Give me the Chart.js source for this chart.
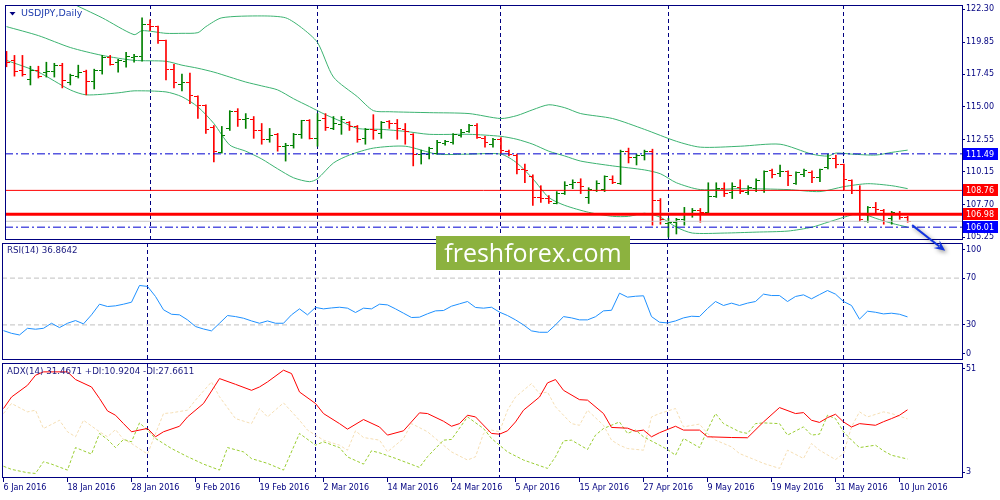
<!DOCTYPE html>
<html>
<head>
<meta charset="utf-8">
<script src="https://cdn.jsdelivr.net/npm/chart.js@4.4.1/dist/chart.umd.min.js"></script>
<style>
  html, body { margin: 0; padding: 0; background: #fff; }
  #wrap { position: relative; width: 1000px; height: 500px; overflow: hidden; background: #fff; }
  canvas { position: absolute; left: 0; }
  #price { top: 0; z-index: 3; }
  #rsi { top: 241px; z-index: 2; }
  #adx { top: 361px; z-index: 1; }
  #brand {
    position: absolute; left: 436px; top: 236px; width: 194px; height: 34px;
    background: #8cb23f; color: #fff; z-index: 4;
    font: 25px "Open Sans", sans-serif; line-height: 33px; text-align: center;
  }
</style>
</head>
<body>
<div id="wrap">
  <canvas id="price" width="1000" height="262"></canvas>
  <canvas id="rsi" width="1000" height="120"></canvas>
  <canvas id="adx" width="1000" height="139"></canvas>
  <div id="brand">freshforex.com</div>
</div>
<script>
// daily bars, 6 Jan 2016 .. 13 Jun 2016 (index = trading day)
const barOpen = [
  118.75, 118.48, 117.75, 117.08, 117.75, 117.60, 117.67, 118.12, 116.79, 117.30,
  117.67, 116.93, 117.75, 118.71, 118.34, 118.41, 118.71, 118.78, 121.14, 120.99,
  119.96, 117.82, 116.71, 116.79, 115.76, 115.09, 113.47, 111.62, 113.39, 114.64,
  114.06, 114.06, 113.24, 112.58, 112.95, 112.06, 112.14, 112.95, 113.98, 112.65,
  114.13, 113.39, 113.69, 113.84, 113.54, 112.65, 113.32, 113.02, 113.91, 113.76,
  113.32, 112.95, 111.47, 111.47, 111.55, 112.28, 112.36, 112.87, 113.17, 113.61,
  112.65, 112.21, 112.58, 111.69, 111.40, 110.29, 109.78, 108.23, 108.15, 107.78,
  108.52, 109.19, 109.33, 108.23, 108.74, 108.82, 109.55, 109.26, 111.69, 111.25,
  111.33, 111.69, 107.99, 106.30, 106.38, 106.60, 106.97, 107.26, 107.12, 108.30,
  108.89, 108.60, 108.96, 108.60, 108.89, 108.74, 110.22, 109.99, 110.14, 109.26,
  109.92, 110.07, 109.70, 110.44, 111.18, 110.66, 109.48, 108.74, 106.45, 107.49,
  107.26, 106.67, 107.05, 106.75
];
const barHigh = [
  119.15, 118.85, 118.85, 118.04, 118.04, 118.34, 118.26, 118.26, 117.45, 118.12,
  117.75, 117.82, 118.85, 118.85, 118.56, 119.07, 118.93, 121.66, 121.51, 121.05,
  120.00, 118.19, 117.45, 117.53, 115.83, 115.16, 113.61, 113.54, 114.72, 114.87,
  114.50, 114.28, 113.76, 113.39, 113.02, 112.28, 113.02, 114.00, 114.05, 114.50,
  114.50, 114.28, 114.28, 113.91, 113.61, 113.39, 114.42, 113.91, 113.98, 114.06,
  113.76, 113.00, 111.77, 111.99, 112.51, 112.51, 113.00, 113.32, 113.69, 113.76,
  112.80, 112.65, 112.70, 111.77, 111.47, 110.73, 109.92, 109.11, 108.37, 108.67,
  109.41, 109.55, 109.63, 108.96, 109.48, 109.85, 109.85, 111.77, 111.92, 111.47,
  111.77, 111.84, 108.15, 106.67, 106.67, 107.49, 107.41, 107.41, 109.33, 109.33,
  109.33, 109.33, 109.55, 109.11, 109.63, 110.22, 110.36, 110.66, 110.22, 110.14,
  110.36, 110.22, 110.36, 111.47, 111.40, 110.73, 109.55, 109.11, 107.56, 107.86,
  107.34, 107.19, 107.19, 106.82
];
const barLow = [
  118.00, 117.30, 117.30, 116.64, 117.16, 117.23, 117.23, 116.42, 116.64, 117.16,
  115.90, 116.34, 117.45, 118.12, 117.60, 117.97, 118.34, 118.41, 120.70, 119.74,
  117.01, 116.42, 116.20, 115.24, 114.13, 113.02, 110.88, 111.55, 113.24, 113.54,
  113.39, 112.65, 112.21, 112.36, 111.69, 110.95, 111.92, 112.65, 112.60, 112.06,
  113.24, 113.30, 112.95, 113.24, 112.36, 112.21, 112.58, 112.65, 113.39, 112.58,
  112.21, 110.59, 110.73, 111.11, 111.47, 112.14, 112.21, 112.73, 113.10, 112.65,
  111.99, 111.99, 111.55, 111.33, 109.99, 109.33, 107.64, 107.86, 107.78, 107.75,
  108.45, 108.89, 108.52, 107.78, 108.67, 108.67, 109.26, 109.20, 110.81, 110.66,
  111.03, 106.16, 106.23, 105.27, 105.50, 106.16, 106.75, 106.38, 107.05, 108.23,
  108.30, 108.15, 108.52, 108.45, 108.67, 108.60, 109.70, 109.78, 109.11, 109.20,
  109.78, 109.33, 109.41, 110.36, 110.44, 108.82, 108.52, 106.45, 106.38, 107.05,
  106.23, 106.23, 106.60, 106.38
];
const barClose = [
  118.30, 117.67, 117.45, 117.75, 117.30, 117.67, 118.12, 117.01, 117.38, 117.60,
  116.93, 117.75, 118.71, 118.19, 118.48, 118.78, 118.78, 121.14, 120.99, 119.96,
  117.82, 116.79, 116.79, 115.83, 115.09, 113.32, 111.65, 112.87, 114.64, 114.06,
  114.10, 113.24, 112.58, 112.87, 112.06, 112.14, 112.95, 113.98, 112.65, 113.98,
  113.47, 113.76, 114.06, 113.54, 112.58, 113.32, 113.24, 113.84, 113.76, 113.39,
  113.17, 111.47, 111.55, 111.92, 112.36, 112.40, 112.95, 113.10, 113.61, 112.73,
  112.36, 112.58, 111.77, 111.47, 110.29, 110.22, 108.23, 108.15, 107.93, 108.52,
  109.11, 109.33, 109.04, 108.82, 109.26, 109.78, 109.33, 111.69, 111.25, 111.33,
  111.69, 107.99, 106.60, 106.38, 106.60, 106.97, 107.26, 107.12, 108.30, 108.89,
  108.52, 109.04, 108.67, 108.96, 109.48, 110.14, 109.92, 110.14, 109.85, 110.07,
  110.22, 109.70, 110.29, 111.11, 110.66, 109.55, 108.74, 106.60, 107.49, 107.34,
  107.05, 107.12, 106.75, 106.45
];

// Bollinger bands, read where the lines bend
const bbUpperBar = [0, 4, 8, 12, 16, 17, 20, 22, 24, 25, 27, 32, 35, 37, 39, 41, 44, 46, 48, 53,
  58, 62, 64, 66, 68, 70, 72, 76, 80, 84, 87, 92, 97, 101, 103, 104, 106, 109, 111, 113];
const bbUpper = [124.9, 124.0, 122.8, 121.66, 120.4, 120.7, 120.5, 120.5, 120.55, 121.0, 121.66, 121.8, 121.66, 120.92, 119.81, 117.23, 115.76, 114.72, 114.64, 114.57,
  114.50, 114.13, 114.35, 114.79, 115.16, 114.94, 114.50, 114.13, 113.32, 112.43, 111.99, 112.06, 112.21, 111.47, 111.32, 111.55, 111.47, 111.40, 111.6, 111.77];
const bbMidBar = [0, 4, 8, 12, 16, 20, 22, 24, 26, 28, 30, 32, 34, 36, 38, 40, 42, 44, 47, 50,
  53, 58, 62, 64, 66, 68, 70, 72, 76, 80, 82, 84, 87, 92, 98, 102, 105, 108, 111, 113];
const bbMid = [121.0, 120.33, 119.44, 118.85, 118.48, 118.41, 118.12, 117.89, 117.60, 117.23, 116.86, 116.57, 116.27, 115.61, 115.02, 114.42, 113.91, 113.39, 113.32, 113.17,
  112.95, 112.95, 112.80, 112.58, 112.21, 111.69, 111.33, 110.95, 110.59, 110.29, 110.0, 109.33, 108.82, 108.89, 108.82, 108.67, 109.04, 109.26, 109.11, 108.89];
const bbLowerBar = [0, 4, 8, 10, 14, 16, 20, 22, 24, 26, 28, 30, 32, 34, 36, 38, 39, 41, 43, 46,
  50, 54, 58, 62, 64, 66, 68, 70, 73, 76, 78, 80, 82, 84, 86, 90, 94, 98, 101, 103, 105, 107, 109, 111, 113];
const bbLower = [118.48, 117.60, 116.27, 115.90, 116.05, 116.20, 116.12, 115.76, 115.0, 113.76, 112.15, 111.69, 111.11, 110.37, 109.70, 109.41, 109.63, 110.81, 111.40, 111.92,
  112.06, 111.47, 111.47, 111.47, 110.81, 109.63, 108.23, 107.64, 107.12, 106.82, 106.82, 107.05, 106.75, 106.01, 105.57, 105.57, 105.64, 105.72, 106.01, 106.38, 106.75, 107.05, 106.67, 106.30, 106.01];

// RSI(14), one value per bar
const rsi = [
  25.1, 22.8, 21.4, 27.1, 26.3, 27.1, 31.4, 27.7, 31.4, 33.7,
  30.9, 38.6, 47.7, 45.7, 46.3, 47.7, 49.4, 63.7, 62.9, 54.3,
  42.9, 39.1, 38.6, 34.3, 28.6, 26.5, 24.9, 31.4, 38.0, 37.1,
  35.7, 33.4, 31.4, 33.4, 31.4, 31.4, 38.6, 43.7, 38.6, 44.9,
  43.7, 44.5, 45.1, 44.3, 40.6, 44.3, 43.7, 47.7, 47.1, 43.7,
  40.0, 36.3, 36.6, 39.5, 42.0, 42.3, 46.0, 48.0, 50.0, 44.9,
  44.3, 45.1, 40.9, 38.0, 34.3, 30.0, 24.9, 23.7, 23.7, 30.0,
  37.1, 36.0, 34.3, 34.3, 37.0, 42.0, 42.5, 57.1, 53.7, 54.5,
  54.9, 37.1, 32.3, 31.7, 33.4, 36.0, 37.4, 37.1, 44.0, 50.0,
  46.6, 48.6, 46.6, 48.6, 50.0, 56.3, 55.1, 55.1, 50.0, 54.3,
  55.7, 52.3, 55.9, 59.4, 56.3, 50.0, 46.6, 34.9, 41.7, 40.8,
  39.4, 40.0, 39.1, 36.86
];

// ADX(14) with +DI / -DI, read where the lines bend
const adxBar = [0, 1, 3, 4, 5, 8, 9, 11, 12, 13, 14, 15, 16, 18, 19, 20, 22, 23, 25, 27,
  29, 31, 32, 33, 35, 36, 37, 39, 40, 42, 43, 45, 47, 48, 50, 52, 53, 55, 56, 57,
  58, 59, 61, 62, 63, 64, 65, 67, 68, 69, 70, 72, 73, 75, 76, 78, 79, 80, 81, 82,
  84, 85, 87, 88, 91, 93, 95, 97, 99, 100, 101, 102, 103, 104, 105, 106, 107, 109, 110, 111, 112, 113];
const adx = [32.0, 36.8, 41.7, 45.9, 47.3, 47.3, 44.1, 41.0, 36.2, 31.0, 29.2, 25.7, 22.3, 23.7, 20.2, 22.3, 24.6, 28.5, 34.1, 44.5,
  42.1, 39.6, 41.0, 43.1, 48.0, 46.6, 38.9, 34.1, 29.9, 25.7, 23.4, 27.4, 24.3, 20.9, 22.7, 30.2, 29.9, 26.7, 24.6, 25.7,
  29.2, 28.5, 21.6, 21.3, 22.7, 26.4, 31.3, 36.8, 42.7, 44.1, 39.6, 35.7, 35.5, 29.9, 24.1, 23.8, 22.5, 23.0, 20.2, 21.9,
  24.6, 23.0, 23.0, 20.2, 19.9, 19.8, 26.4, 32.4, 29.9, 30.3, 27.1, 26.2, 28.2, 29.6, 26.4, 24.3, 25.7, 25.0, 26.5, 27.8, 29.2, 31.47];
const plusDiBar = [0, 1, 3, 4, 5, 6, 8, 9, 11, 12, 13, 14, 15, 16, 17, 18, 19, 21, 23, 25,
  27, 28, 30, 31, 33, 35, 37, 39, 40, 42, 43, 45, 46, 47, 49, 52, 53, 55, 56, 58,
  60, 61, 62, 63, 65, 68, 69, 70, 71, 73, 74, 75, 77, 78, 79, 80, 82, 83, 84, 85,
  87, 88, 89, 90, 92, 93, 94, 95, 97, 98, 100, 101, 102, 103, 104, 105, 106, 107, 109, 110, 111, 113];
const plusDi = [7.9, 6.6, 5.2, 4.9, 9.8, 8.8, 6.3, 15.7, 13.0, 21.6, 19.1, 15.7, 19.1, 18.1, 26.0, 23.0, 19.5, 15.3, 11.9, 8.8,
  6.3, 15.7, 13.9, 11.1, 9.1, 6.3, 21.6, 16.7, 18.1, 15.7, 11.8, 8.8, 14.35, 13.5, 11.2, 7.4, 11.9, 18.8, 19.1, 28.5,
  23.65, 19.5, 16.7, 13.9, 10.5, 7.0, 11.85, 18.5, 18.8, 14.9, 20.9, 23.65, 26.4, 21.6, 23.0, 20.2, 16.7, 14.9, 12.5, 19.5,
  15.7, 23.0, 29.9, 25.7, 22.3, 21.6, 25.7, 26.0, 25.7, 20.9, 24.35, 20.9, 21.3, 29.2, 27.8, 22.3, 18.8, 15.7, 16.7, 14.35, 12.5, 10.92];
const minusDiBar = [0, 1, 3, 4, 5, 7, 8, 9, 10, 12, 13, 14, 15, 16, 18, 20, 21, 23, 24, 26,
  27, 29, 31, 32, 33, 35, 37, 38, 40, 42, 43, 44, 45, 47, 48, 50, 51, 53, 55, 56,
  58, 59, 60, 61, 62, 63, 64, 66, 67, 68, 69, 71, 72, 73, 75, 76, 77, 78, 80, 81,
  82, 84, 85, 87, 88, 89, 91, 92, 94, 95, 97, 98, 100, 101, 102, 104, 105, 106, 107, 108, 110, 111, 113];
const minusDi = [29.9, 34.1, 30.6, 31.3, 23.65, 27.1, 22.3, 20.2, 27.1, 22.3, 20.2, 23.2, 19.1, 17.4, 13.0, 29.9, 30.2, 31.3, 35.5, 43.1,
  36.9, 27.8, 25.7, 32.0, 28.5, 34.35, 27.1, 23.0, 18.8, 16.7, 14.6, 22.7, 19.9, 18.8, 13.9, 19.5, 25.7, 22.3, 16.7, 13.9,
  10.5, 11.85, 21.6, 23.0, 22.3, 31.3, 36.8, 42.4, 38.2, 38.9, 32.7, 25.7, 25.0, 31.3, 25.0, 18.8, 16.7, 15.3, 14.6, 28.5,
  29.9, 32.0, 24.35, 25.5, 21.6, 18.8, 16.0, 13.2, 10.5, 9.1, 7.0, 14.6, 11.15, 17.4, 14.6, 10.7, 13.2, 24.35, 30.6, 28.5, 30.6, 29.9, 27.66];

// axes and levels
const priceTicks = [122.30, 119.85, 117.45, 115.00, 112.55, 110.15, 107.70, 105.25];
const blueLevels = [111.49, 106.01];
const redLevels = [108.76, 106.98];
const rsiLevels = [30, 70];
const rsiTickLabels = ['0', '30', '70', '100'];
const adxTickLabels = ['3', '51'];
const dateTickBars = [0, 8, 16, 24, 32, 40, 48, 56, 64, 72, 80, 88, 96, 104, 112];
const dateLabels = ['6 Jan 2016', '18 Jan 2016', '28 Jan 2016', '9 Feb 2016', '19 Feb 2016',
  '2 Mar 2016', '14 Mar 2016', '24 Mar 2016', '5 Apr 2016', '15 Apr 2016', '27 Apr 2016',
  '9 May 2016', '19 May 2016', '31 May 2016', '10 Jun 2016'];
const monthStartBars = [18, 39, 62, 83, 105];
const arrowFrom = [113.56, 106.16];
const arrowTo = [117.7, 104.24];

// ---------------------------------------------------------------
const NAVY = '#000080';
const BULL = '#008000';
const BEAR = '#ff0000';
const BAND = '#3cb371';
const X_MIN = -0.1875, X_MAX = 119.8125;
const PRICE_MIN = 105.051, PRICE_MAX = 122.617;

Chart.defaults.font.family = '"DejaVu Sans", sans-serif';
Chart.defaults.font.size = 8;
Chart.defaults.color = NAVY;

const pts = (xs, ys) => xs.map((x, k) => ({x: x, y: ys[k]}));
const flat = v => [{x: X_MIN, y: v}, {x: X_MAX, y: v}];
const isBull = i => barClose[i] >= barOpen[i];

// open tick sits left of the bar, close tick right of it
function tickImage(color, side) {
  const c = document.createElement('canvas');
  c.width = 7; c.height = 1;
  const g = c.getContext('2d');
  g.fillStyle = color;
  g.fillRect(side === 'open' ? 0 : 4, 0, 3, 1);
  return c;
}
const openTick = {bull: tickImage(BULL, 'open'), bear: tickImage(BEAR, 'open')};
const closeTick = {bull: tickImage(BULL, 'close'), bear: tickImage(BEAR, 'close')};

// frame round each pane + the pane caption
const paneDecor = {
  id: 'paneDecor',
  afterDraw(chart, args, opts) {
    const {ctx, chartArea: a} = chart;
    ctx.save();
    ctx.strokeStyle = NAVY;
    ctx.lineWidth = 1;
    ctx.strokeRect(a.left + 0.5, a.top + 0.5, a.right - a.left, a.bottom - a.top - 1);
    let x = a.left + 5;
    if (opts.marker) {
      ctx.fillStyle = NAVY;
      ctx.beginPath();
      ctx.moveTo(a.left + 4.5, a.top + 7);
      ctx.lineTo(a.left + 10.5, a.top + 7);
      ctx.lineTo(a.left + 7.5, a.top + 10.5);
      ctx.closePath();
      ctx.fill();
      x = a.left + 16;
    }
    ctx.font = opts.font;
    ctx.fillStyle = opts.color;
    ctx.textBaseline = 'middle';
    ctx.fillText(opts.text, x, a.top + opts.dy);
    ctx.restore();
  }
};

// coloured price tags on the right axis
const priceTags = {
  id: 'priceTags',
  afterDraw(chart, args, opts) {
    const {ctx, chartArea: a, scales: {y}} = chart;
    ctx.save();
    ctx.font = '8px "DejaVu Sans"';
    ctx.textBaseline = 'middle';
    opts.items.forEach(it => {
      const py = Math.round(y.getPixelForValue(it.value));
      ctx.fillStyle = it.color;
      ctx.fillRect(a.right + 1, py - 6, 35, 12);
      ctx.fillStyle = '#fff';
      ctx.fillText(it.value.toFixed(2), a.right + 4, py + 0.5);
    });
    ctx.restore();
  }
};

// hand drawn arrow pointing down-right
const trendArrow = {
  id: 'trendArrow',
  afterDraw(chart) {
    const {ctx, scales: {x, y}} = chart;
    const x0 = x.getPixelForValue(arrowFrom[0]), y0 = y.getPixelForValue(arrowFrom[1]);
    const x1 = x.getPixelForValue(arrowTo[0]), y1 = y.getPixelForValue(arrowTo[1]);
    const ang = Math.atan2(y1 - y0, x1 - x0);
    const head = 12;
    ctx.save();
    ctx.shadowColor = 'rgba(0,0,0,0.45)';
    ctx.shadowBlur = 4;
    ctx.shadowOffsetX = 2;
    ctx.shadowOffsetY = 2;
    ctx.strokeStyle = ctx.fillStyle = '#1234e0';
    ctx.lineWidth = 2;
    ctx.beginPath();
    ctx.moveTo(x0, y0);
    ctx.lineTo(x1 - head * 0.6 * Math.cos(ang), y1 - head * 0.6 * Math.sin(ang));
    ctx.stroke();
    ctx.beginPath();
    ctx.moveTo(x1, y1);
    ctx.lineTo(x1 - head * Math.cos(ang - 0.42), y1 - head * Math.sin(ang - 0.42));
    ctx.lineTo(x1 - head * 0.55 * Math.cos(ang), y1 - head * 0.55 * Math.sin(ang));
    ctx.lineTo(x1 - head * Math.cos(ang + 0.42), y1 - head * Math.sin(ang + 0.42));
    ctx.closePath();
    ctx.fill();
    ctx.restore();
  }
};

function dataX(display) {
  return {type: 'linear', min: X_MIN, max: X_MAX, display: display, offset: false, grid: {offset: false}};
}
function monthGrid() {
  return {
    type: 'linear', position: 'top', min: X_MIN, max: X_MAX, offset: false,
    afterBuildTicks: s => { s.ticks = monthStartBars.map(v => ({value: v})); },
    afterFit: s => { s.height = 0; s.paddingLeft = 0; s.paddingRight = 0; },
    ticks: {display: false},
    grid: {color: NAVY, drawTicks: false, lineWidth: 1, offset: false},
    border: {display: false, dash: [4, 3]}
  };
}
function rightAxis(min, max, tickValues, labelFn) {
  return {
    type: 'linear', position: 'right', min: min, max: max, beginAtZero: false,
    afterBuildTicks: s => { s.ticks = tickValues.map(v => ({value: v})); },
    afterFit: s => { s.width = 38; s.paddingTop = 0; s.paddingBottom = 0; },
    ticks: {callback: labelFn, color: NAVY, padding: 1, autoSkip: false},
    grid: {drawOnChartArea: false, color: NAVY, tickLength: 3},
    border: {display: false}
  };
}
const common = {
  responsive: false,
  devicePixelRatio: 1,
  animation: false,
  events: [],
  elements: {point: {radius: 0}, line: {borderWidth: 1}}
};

// ---- price pane ----
new Chart(document.getElementById('price'), {
  type: 'line',
  data: {
    datasets: [
      {data: pts(bbUpperBar, bbUpper), borderColor: BAND, tension: 0.25, order: 6},
      {data: pts(bbMidBar, bbMid), borderColor: BAND, tension: 0.25, order: 6},
      {data: pts(bbLowerBar, bbLower), borderColor: BAND, tension: 0.25, order: 6},
      {
        type: 'bar',
        data: barHigh.map((h, i) => ({x: i, y: [barLow[i], h]})),
        backgroundColor: c => isBull(c.dataIndex) ? BULL : BEAR,
        barThickness: 1, grouped: false, borderWidth: 0, order: 4
      },
      {
        data: pts(barOpen.map((v, i) => i), barOpen), showLine: false, order: 3,
        pointRadius: 2, pointStyle: c => isBull(c.dataIndex) ? openTick.bull : openTick.bear
      },
      {
        data: pts(barClose.map((v, i) => i), barClose), showLine: false, order: 3,
        pointRadius: 2, pointStyle: c => isBull(c.dataIndex) ? closeTick.bull : closeTick.bear
      },
      {data: flat(barClose[barClose.length - 1]), borderColor: '#c8c8c8', order: 2},
      {data: flat(blueLevels[0]), borderColor: '#0000d0', borderDash: [8, 3, 2, 3], order: 1},
      {data: flat(blueLevels[1]), borderColor: '#0000d0', borderDash: [8, 3, 2, 3], order: 1},
      {data: flat(redLevels[0]), borderColor: BEAR, order: 1},
      {data: flat(redLevels[1]), borderColor: BEAR, borderWidth: 3, order: 1}
    ]
  },
  options: Object.assign({}, common, {
    layout: {padding: {left: 2, top: 2, right: 0, bottom: 22}},
    scales: {
      x: dataX(false),
      xm: monthGrid(),
      y: rightAxis(PRICE_MIN, PRICE_MAX, priceTicks, v => v.toFixed(2))
    },
    plugins: {
      legend: {display: false}, tooltip: {enabled: false},
      paneDecor: {text: 'USDJPY,Daily', marker: true, font: '9.5px "DejaVu Sans"', color: '#1e3cae', dy: 9},
      priceTags: {items: [
        {value: blueLevels[0], color: '#0000ff'},
        {value: redLevels[0], color: '#ff0000'},
        {value: redLevels[1], color: '#ff0000'},
        {value: blueLevels[1], color: '#0000ff'}
      ]}
    }
  }),
  plugins: [paneDecor, priceTags, trendArrow]
});

// ---- RSI pane ----
new Chart(document.getElementById('rsi'), {
  type: 'line',
  data: {
    datasets: [
      {data: flat(rsiLevels[0]), borderColor: '#c0c0c0', borderDash: [5, 3], order: 2},
      {data: flat(rsiLevels[1]), borderColor: '#c0c0c0', borderDash: [5, 3], order: 2},
      {data: pts(rsi.map((v, i) => i), rsi), borderColor: '#1e90ff', order: 1}
    ]
  },
  options: Object.assign({}, common, {
    layout: {padding: {left: 2, top: 2, right: 0, bottom: 1}},
    scales: {
      x: dataX(false),
      xm: monthGrid(),
      y: rightAxis(0, 100, [5.5, 30, 70, 94.5], (v, i) => rsiTickLabels[i])
    },
    plugins: {
      legend: {display: false}, tooltip: {enabled: false},
      paneDecor: {text: 'RSI(14) 36.8642', font: '8.7px "DejaVu Sans"', color: '#1a1a80', dy: 8}
    }
  }),
  plugins: [paneDecor]
});

// ---- ADX pane + date axis ----
new Chart(document.getElementById('adx'), {
  type: 'line',
  data: {
    datasets: [
      {data: pts(minusDiBar, minusDi), borderColor: '#f5deb3', borderDash: [3, 2], order: 3},
      {data: pts(plusDiBar, plusDi), borderColor: '#9acd32', borderDash: [3, 2], order: 2},
      {data: pts(adxBar, adx), borderColor: '#ff0000', order: 1}
    ]
  },
  options: Object.assign({}, common, {
    layout: {padding: {left: 2, top: 2, right: 0, bottom: 0}},
    scales: {
      x: {
        type: 'linear', position: 'bottom', min: X_MIN, max: X_MAX, offset: false,
        afterBuildTicks: s => { s.ticks = dateTickBars.map(v => ({value: v})); },
        afterFit: s => { s.height = 22; s.paddingLeft = 0; s.paddingRight = 0; },
        ticks: {callback: (v, i) => dateLabels[i], align: 'start', autoSkip: false, maxRotation: 0, color: NAVY, padding: 1},
        grid: {drawOnChartArea: false, color: NAVY, tickLength: 4},
        border: {display: false}
      },
      xm: monthGrid(),
      y: rightAxis(3, 51, [5.5, 48.5], (v, i) => adxTickLabels[i])
    },
    plugins: {
      legend: {display: false}, tooltip: {enabled: false},
      paneDecor: {text: 'ADX(14) 31.4671 +DI:10.9204 -DI:27.6611', font: '8.7px "DejaVu Sans"', color: '#1a1a80', dy: 8.5}
    }
  }),
  plugins: [paneDecor]
});
</script>
</body>
</html>
